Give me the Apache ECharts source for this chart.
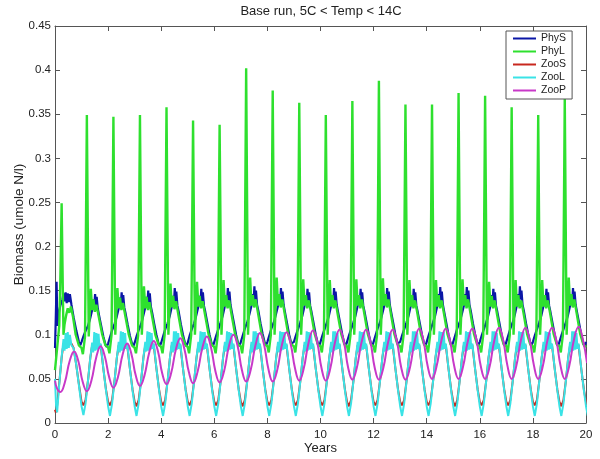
<!DOCTYPE html>
<html><head><meta charset="utf-8">
<script src="https://cdn.jsdelivr.net/npm/echarts@6/dist/echarts.min.js"></script>
<style>html,body{margin:0;padding:0;background:#fff}#c{width:600px;height:459px}</style>
</head><body><div id="c"></div>
<script>
// ---------- DATA ----------
const seriesNames = ['PhyS', 'PhyL', 'ZooS', 'ZooL', 'ZooP'];
const xTicks = [0, 2, 4, 6, 8, 10, 12, 14, 16, 18, 20];
const yTicks = [0, 0.05, 0.1, 0.15, 0.2, 0.25, 0.3, 0.35, 0.4, 0.45];

// PhyS (blue): first year, then rows for years 1..19 at the offsets within each year
const phySStart = [[0,0.085],[0.03,0.12],[0.06,0.16],[0.09,0.11],[0.14,0.125],[0.2,0.133],[0.28,0.14],[0.32,0.147],[0.36,0.138],[0.4,0.148],[0.44,0.136],[0.48,0.147],[0.52,0.137],[0.56,0.146],[0.62,0.134],[0.7,0.12],[0.8,0.105],[0.9,0.092],[0.95,0.088]];
const phySOffsets = [0.00,0.08,0.16,0.24,0.32,0.40,0.44,0.48,0.51,0.54,0.57,0.61,0.66,0.74,0.82,0.90,0.95];
const phySRows = [
 [0.092,0.099,0.105,0.11,0.118,0.128,0.14,0.132,0.146,0.134,0.143,0.13,0.122,0.11,0.098,0.089,0.086],
 [0.09,0.098,0.106,0.112,0.12,0.13,0.142,0.134,0.148,0.136,0.145,0.131,0.124,0.111,0.099,0.09,0.087],
 [0.091,0.099,0.106,0.112,0.121,0.131,0.143,0.134,0.15,0.137,0.147,0.132,0.125,0.112,0.1,0.09,0.087],
 [0.091,0.099,0.107,0.113,0.121,0.132,0.144,0.135,0.153,0.138,0.149,0.133,0.126,0.112,0.1,0.09,0.087],
 [0.091,0.1,0.107,0.113,0.122,0.132,0.144,0.135,0.152,0.138,0.148,0.133,0.126,0.113,0.1,0.09,0.087],
 [0.092,0.1,0.107,0.114,0.122,0.133,0.145,0.136,0.153,0.139,0.149,0.134,0.126,0.113,0.1,0.09,0.087],
 [0.092,0.1,0.108,0.114,0.123,0.133,0.146,0.137,0.155,0.14,0.15,0.134,0.127,0.113,0.101,0.091,0.088],
 [0.092,0.1,0.108,0.114,0.123,0.133,0.145,0.136,0.153,0.139,0.149,0.134,0.126,0.113,0.1,0.09,0.088],
 [0.092,0.1,0.107,0.114,0.122,0.133,0.145,0.136,0.152,0.139,0.148,0.133,0.126,0.113,0.1,0.09,0.087],
 [0.092,0.1,0.107,0.114,0.122,0.133,0.145,0.136,0.153,0.139,0.149,0.134,0.126,0.113,0.1,0.09,0.087],
 [0.092,0.1,0.107,0.114,0.122,0.133,0.145,0.136,0.152,0.139,0.148,0.133,0.126,0.113,0.1,0.09,0.087],
 [0.092,0.1,0.108,0.114,0.123,0.133,0.145,0.136,0.153,0.139,0.149,0.134,0.126,0.113,0.1,0.09,0.088],
 [0.092,0.1,0.107,0.114,0.122,0.133,0.145,0.136,0.152,0.139,0.148,0.133,0.126,0.113,0.1,0.09,0.087],
 [0.092,0.1,0.107,0.114,0.122,0.133,0.146,0.136,0.154,0.139,0.149,0.134,0.126,0.113,0.1,0.09,0.087],
 [0.092,0.1,0.108,0.114,0.123,0.133,0.146,0.137,0.154,0.14,0.15,0.134,0.127,0.113,0.101,0.091,0.088],
 [0.092,0.1,0.107,0.114,0.122,0.133,0.145,0.136,0.152,0.139,0.148,0.133,0.126,0.113,0.1,0.09,0.087],
 [0.092,0.1,0.108,0.114,0.123,0.134,0.146,0.137,0.155,0.14,0.15,0.134,0.127,0.113,0.101,0.091,0.088],
 [0.092,0.1,0.107,0.114,0.122,0.133,0.145,0.136,0.152,0.139,0.148,0.133,0.126,0.113,0.1,0.09,0.087],
 [0.092,0.1,0.107,0.114,0.122,0.133,0.145,0.136,0.153,0.139,0.149,0.134,0.126,0.113,0.1,0.09,0.087]
];
const phySEnd = [[20,0.092]];

// PhyL (green)
const phyLStart = [[0,0.06],[0.08,0.085],[0.16,0.11],[0.2,0.16],[0.25,0.249],[0.29,0.16],[0.32,0.1],[0.36,0.112],[0.42,0.122],[0.48,0.13],[0.54,0.125],[0.6,0.132],[0.68,0.12],[0.78,0.1],[0.9,0.088]];
const phyLOffsets = [0.00,0.05,0.10,0.13,0.16,0.20,0.24,0.27,0.30,0.35,0.40,0.45,0.50,0.56,0.65,0.78,0.90];
const phyLRows = [
 [0.085,0.078,0.077,0.098,0.2,0.349,0.2,0.098,0.118,0.152,0.128,0.14,0.126,0.134,0.12,0.1,0.088],
 [0.086,0.079,0.078,0.1,0.2,0.347,0.2,0.1,0.12,0.153,0.13,0.142,0.128,0.136,0.121,0.1,0.088],
 [0.085,0.079,0.078,0.099,0.2,0.349,0.2,0.1,0.12,0.155,0.13,0.143,0.128,0.137,0.122,0.1,0.089],
 [0.086,0.079,0.078,0.1,0.21,0.358,0.21,0.1,0.121,0.158,0.131,0.144,0.129,0.138,0.122,0.1,0.089],
 [0.086,0.079,0.078,0.1,0.2,0.343,0.2,0.1,0.122,0.16,0.132,0.144,0.13,0.138,0.123,0.101,0.089],
 [0.086,0.079,0.078,0.1,0.2,0.338,0.2,0.1,0.122,0.162,0.132,0.145,0.13,0.139,0.123,0.101,0.089],
 [0.087,0.079,0.078,0.1,0.23,0.402,0.23,0.1,0.123,0.165,0.133,0.145,0.131,0.14,0.124,0.101,0.089],
 [0.087,0.08,0.079,0.1,0.22,0.377,0.22,0.1,0.123,0.165,0.133,0.146,0.131,0.14,0.124,0.101,0.089],
 [0.087,0.08,0.079,0.1,0.21,0.363,0.21,0.1,0.122,0.163,0.133,0.145,0.13,0.139,0.124,0.101,0.089],
 [0.087,0.08,0.079,0.1,0.2,0.349,0.2,0.1,0.122,0.162,0.132,0.145,0.13,0.139,0.123,0.101,0.089],
 [0.087,0.08,0.079,0.1,0.21,0.365,0.21,0.1,0.122,0.163,0.133,0.145,0.13,0.14,0.124,0.101,0.089],
 [0.087,0.08,0.079,0.1,0.22,0.388,0.22,0.1,0.123,0.164,0.133,0.146,0.131,0.14,0.124,0.101,0.089],
 [0.087,0.08,0.079,0.1,0.21,0.361,0.21,0.1,0.122,0.162,0.132,0.145,0.13,0.139,0.124,0.101,0.089],
 [0.087,0.08,0.079,0.1,0.21,0.361,0.21,0.1,0.122,0.162,0.132,0.145,0.13,0.139,0.124,0.101,0.089],
 [0.087,0.08,0.079,0.1,0.21,0.374,0.21,0.1,0.122,0.163,0.133,0.145,0.13,0.14,0.124,0.101,0.089],
 [0.087,0.08,0.079,0.1,0.21,0.371,0.21,0.1,0.121,0.16,0.132,0.144,0.13,0.139,0.123,0.101,0.089],
 [0.087,0.08,0.079,0.1,0.21,0.358,0.21,0.1,0.122,0.162,0.132,0.145,0.13,0.139,0.124,0.101,0.089],
 [0.087,0.08,0.079,0.1,0.2,0.349,0.2,0.1,0.122,0.162,0.132,0.145,0.13,0.139,0.124,0.101,0.089],
 [0.087,0.08,0.079,0.1,0.21,0.369,0.21,0.1,0.123,0.165,0.133,0.146,0.131,0.14,0.124,0.101,0.089]
];
const phyLEnd = [[20,0.086]];

// ZooS (red): same timing as ZooL, higher minimum and flat top
const zooSStart = [[0,0.015],[0.03,0.012],[0.08,0.02],[0.15,0.042],[0.25,0.074],[0.32,0.09],[0.5,0.09],[0.62,0.09],[0.7,0.085],[0.8,0.066],[0.9,0.044],[1.0,0.024]];
const zooSOffsets = [0.07,0.15,0.25,0.33,0.40,0.52,0.64,0.72,0.82,0.92,1.00];
const zooSRows = [
 [0.02,0.026,0.05,0.074,0.088,0.09,0.09,0.088,0.062,0.038,0.024],
 [0.02,0.026,0.05,0.074,0.088,0.09,0.09,0.088,0.062,0.038,0.024],
 [0.019,0.026,0.05,0.074,0.088,0.09,0.09,0.088,0.062,0.038,0.024],
 [0.02,0.026,0.05,0.074,0.088,0.09,0.09,0.088,0.062,0.038,0.024],
 [0.02,0.026,0.05,0.074,0.088,0.09,0.09,0.088,0.062,0.038,0.024],
 [0.02,0.026,0.05,0.074,0.088,0.09,0.09,0.088,0.062,0.038,0.024],
 [0.019,0.026,0.05,0.074,0.088,0.091,0.09,0.088,0.062,0.038,0.024],
 [0.02,0.026,0.05,0.074,0.088,0.09,0.09,0.088,0.062,0.038,0.024],
 [0.02,0.026,0.05,0.074,0.088,0.09,0.09,0.088,0.062,0.038,0.024],
 [0.02,0.026,0.05,0.074,0.088,0.09,0.09,0.088,0.062,0.038,0.024],
 [0.019,0.026,0.05,0.074,0.088,0.09,0.09,0.088,0.062,0.038,0.024],
 [0.02,0.026,0.05,0.074,0.088,0.091,0.09,0.088,0.062,0.038,0.024],
 [0.02,0.026,0.05,0.074,0.088,0.09,0.09,0.088,0.062,0.038,0.024],
 [0.02,0.026,0.05,0.074,0.088,0.09,0.09,0.088,0.062,0.038,0.024],
 [0.019,0.026,0.05,0.074,0.088,0.09,0.09,0.088,0.062,0.038,0.024],
 [0.02,0.026,0.05,0.074,0.088,0.09,0.09,0.088,0.062,0.038,0.024],
 [0.02,0.026,0.05,0.074,0.088,0.09,0.09,0.088,0.062,0.038,0.024],
 [0.02,0.026,0.05,0.074,0.088,0.09,0.09,0.088,0.062,0.038,0.024],
 [0.019,0.026,0.05,0.074,0.088,0.09,0.09,0.088,0.062,0.038,0.024]
];
const zooSEnd = [[20.07,0.02]];

// ZooL (cyan)
const zooLStart = [[0,0.05],[0.04,0.02],[0.08,0.012],[0.15,0.04],[0.25,0.075],[0.32,0.095],[0.36,0.082],[0.40,0.102],[0.44,0.084],[0.48,0.103],[0.52,0.085],[0.56,0.1],[0.62,0.088],[0.7,0.085],[0.8,0.066],[0.9,0.043],[1.0,0.019]];
const zooLOffsets = [0.07,0.15,0.25,0.33,0.40,0.44,0.48,0.52,0.56,0.60,0.64,0.68,0.72,0.82,0.92,1.00];
const zooLRows = [
 [0.009,0.022,0.05,0.074,0.091,0.08,0.103,0.082,0.102,0.083,0.101,0.084,0.09,0.062,0.037,0.019],
 [0.008,0.022,0.05,0.074,0.092,0.08,0.104,0.082,0.103,0.083,0.102,0.084,0.09,0.062,0.037,0.019],
 [0.008,0.022,0.05,0.074,0.092,0.081,0.104,0.082,0.103,0.083,0.102,0.084,0.09,0.062,0.037,0.019],
 [0.008,0.022,0.05,0.074,0.092,0.08,0.104,0.082,0.104,0.083,0.102,0.084,0.09,0.062,0.037,0.019],
 [0.008,0.022,0.05,0.074,0.092,0.08,0.104,0.082,0.103,0.083,0.103,0.084,0.09,0.062,0.037,0.019],
 [0.008,0.022,0.05,0.074,0.092,0.081,0.104,0.082,0.103,0.083,0.102,0.084,0.09,0.062,0.037,0.019],
 [0.008,0.022,0.05,0.074,0.092,0.08,0.104,0.082,0.104,0.083,0.102,0.084,0.09,0.062,0.037,0.019],
 [0.008,0.022,0.05,0.074,0.092,0.08,0.104,0.082,0.103,0.083,0.103,0.084,0.09,0.062,0.037,0.019],
 [0.008,0.022,0.05,0.074,0.092,0.081,0.104,0.082,0.103,0.083,0.102,0.084,0.09,0.062,0.037,0.019],
 [0.008,0.022,0.05,0.074,0.092,0.08,0.104,0.082,0.104,0.083,0.102,0.084,0.09,0.062,0.037,0.019],
 [0.008,0.022,0.05,0.074,0.092,0.08,0.104,0.082,0.103,0.083,0.103,0.084,0.09,0.062,0.037,0.019],
 [0.008,0.022,0.05,0.074,0.092,0.081,0.104,0.082,0.103,0.083,0.102,0.084,0.09,0.062,0.037,0.019],
 [0.008,0.022,0.05,0.074,0.092,0.08,0.104,0.082,0.104,0.083,0.102,0.084,0.09,0.062,0.037,0.019],
 [0.008,0.022,0.05,0.074,0.092,0.08,0.104,0.082,0.103,0.083,0.103,0.084,0.09,0.062,0.037,0.019],
 [0.008,0.022,0.05,0.074,0.092,0.081,0.104,0.082,0.103,0.083,0.102,0.084,0.09,0.062,0.037,0.019],
 [0.008,0.022,0.05,0.074,0.092,0.08,0.104,0.082,0.104,0.083,0.102,0.084,0.09,0.062,0.037,0.019],
 [0.008,0.022,0.05,0.074,0.092,0.08,0.104,0.082,0.103,0.083,0.103,0.084,0.09,0.062,0.037,0.019],
 [0.008,0.022,0.05,0.074,0.092,0.081,0.104,0.082,0.103,0.083,0.102,0.084,0.09,0.062,0.037,0.019],
 [0.008,0.022,0.05,0.074,0.092,0.08,0.104,0.082,0.104,0.083,0.102,0.084,0.09,0.062,0.037,0.019]
];
const zooLEnd = [[20.07,0.008]];

// ZooP (magenta): rows for years 0..19
const zooPStart = [[0,0.048],[0.08,0.039]];
const zooPOffsets = [0.20,0.37,0.55,0.72,0.88,1.04];
const zooPRows = [
 [0.035,0.046,0.070,0.081,0.070,0.047],
 [0.036,0.048,0.074,0.087,0.075,0.052],
 [0.040,0.052,0.078,0.090,0.078,0.054],
 [0.042,0.054,0.080,0.093,0.081,0.056],
 [0.044,0.056,0.083,0.096,0.083,0.058],
 [0.045,0.058,0.085,0.098,0.085,0.059],
 [0.046,0.059,0.087,0.100,0.087,0.060],
 [0.047,0.060,0.088,0.102,0.088,0.061],
 [0.047,0.060,0.089,0.103,0.089,0.062],
 [0.048,0.062,0.091,0.105,0.091,0.062],
 [0.048,0.062,0.092,0.106,0.092,0.063],
 [0.049,0.063,0.092,0.106,0.092,0.063],
 [0.049,0.063,0.092,0.106,0.092,0.063],
 [0.049,0.063,0.093,0.107,0.093,0.064],
 [0.050,0.064,0.093,0.107,0.093,0.064],
 [0.050,0.064,0.093,0.107,0.093,0.064],
 [0.050,0.064,0.094,0.108,0.094,0.065],
 [0.050,0.064,0.094,0.108,0.094,0.065],
 [0.050,0.064,0.094,0.108,0.094,0.065],
 [0.050,0.065,0.095,0.109,0.095,0.068]
];
const zooPEnd = [];

// ---------- build [x, y] tables ----------
function build(start, offsets, rows, firstYear, end) {
  const out = start.slice();
  rows.forEach((row, i) => {
    const yr = firstYear + i;
    row.forEach((v, j) => out.push([+(yr + offsets[j]).toFixed(3), v]));
  });
  return out.concat(end);
}
const phyS = build(phySStart, phySOffsets, phySRows, 1, phySEnd);
const phyL = build(phyLStart, phyLOffsets, phyLRows, 1, phyLEnd);
const zooS = build(zooSStart, zooSOffsets, zooSRows, 1, zooSEnd);
const zooL = build(zooLStart, zooLOffsets, zooLRows, 1, zooLEnd);
const zooP = build(zooPStart, zooPOffsets, zooPRows, 0, zooPEnd);

const colors = ['#0b17a6', '#2ee02e', '#c8281e', '#3ae3e6', '#c838c8'];
const FONT = 'Liberation Sans, Arial, Helvetica, sans-serif';
const axisCol = '#555';

const chart = echarts.init(document.getElementById('c'), null, {renderer: 'canvas'});
const baseAxis = {
  type: 'value',
  axisLine: {show: true, onZero: false, lineStyle: {color: axisCol, width: 1}},
  axisTick: {show: true, inside: true, length: 5, lineStyle: {color: axisCol, width: 1}},
  splitLine: {show: false}
};
const lineSeries = (name, data, color, z, w) => ({
  name, type: 'line', data, showSymbol: false, symbol: 'none',
  lineStyle: {width: w, color}, itemStyle: {color}, z, clip: true, animation: false,
  smooth: name === 'ZooP' ? 0.45 : false
});

chart.setOption({
  animation: false,
  backgroundColor: '#fff',
  grid: {left: 55, right: 14, top: 26, bottom: 36, containLabel: false, outerBoundsMode: 'none'},
  graphic: [{
    type: 'text', x: 321, y: 11.5,
    style: {text: 'Base run, 5C < Temp < 14C', font: '13px ' + FONT, fill: '#222',
            textAlign: 'center', textVerticalAlign: 'middle'}
  }],
  legend: {
    orient: 'vertical', left: 506, top: 31,
    data: seriesNames, icon: 'rect', itemWidth: 23, itemHeight: 2, itemGap: 2,
    padding: [2, 6, 3, 7], borderColor: '#555', borderWidth: 1, backgroundColor: '#fff',
    textStyle: {fontSize: 10.5, lineHeight: 11, color: '#222', fontFamily: FONT},
    selectedMode: false
  },
  xAxis: [
    Object.assign({}, baseAxis, {
      position: 'bottom', min: xTicks[0], max: xTicks[xTicks.length - 1], interval: 2,
      axisLabel: {color: '#222', fontSize: 11.5, margin: 6, fontFamily: FONT},
      name: 'Years', nameLocation: 'middle', nameGap: 19, nameMoveOverlap: false,
      nameTextStyle: {fontSize: 13, color: '#222', fontFamily: FONT}
    }),
    Object.assign({}, baseAxis, {
      position: 'top', min: xTicks[0], max: xTicks[xTicks.length - 1], interval: 2,
      axisLabel: {show: false}
    })
  ],
  yAxis: [
    Object.assign({}, baseAxis, {
      position: 'left', min: yTicks[0], max: yTicks[yTicks.length - 1], interval: 0.05,
      axisLabel: {color: '#222', fontSize: 11.5, margin: 4, fontFamily: FONT,
                  formatter: v => String(+v.toFixed(2))},
      name: 'Biomass (umole N/l)', nameLocation: 'middle', nameGap: 29, nameMoveOverlap: false,
      nameTextStyle: {fontSize: 13.5, color: '#222', fontFamily: FONT}
    }),
    Object.assign({}, baseAxis, {
      position: 'right', min: yTicks[0], max: yTicks[yTicks.length - 1], interval: 0.05,
      axisLabel: {show: false}
    })
  ],
  series: [
    lineSeries('PhyS', phyS, colors[0], 2, 2.2),
    lineSeries('PhyL', phyL, colors[1], 3, 2.4),
    lineSeries('ZooS', zooS, colors[2], 4, 2),
    lineSeries('ZooL', zooL, colors[3], 5, 2),
    lineSeries('ZooP', zooP, colors[4], 6, 2)
  ]
});
</script>
</body></html>
